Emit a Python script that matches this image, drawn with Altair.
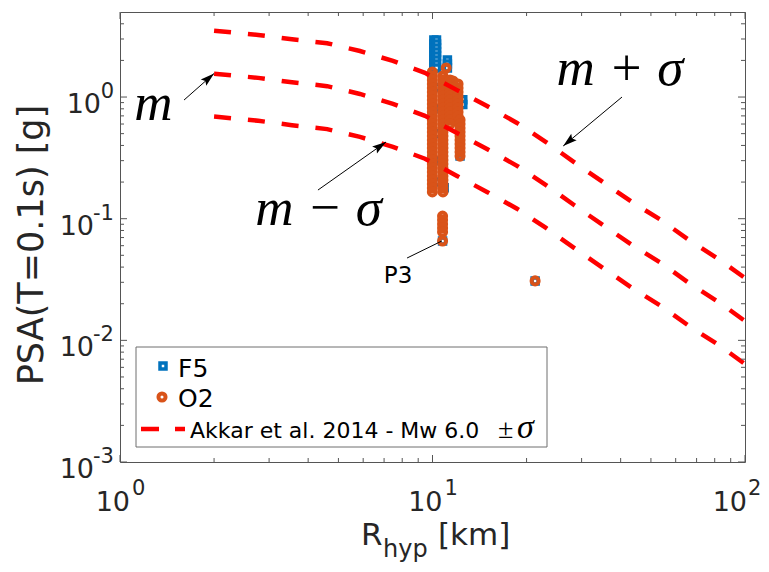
import altair as alt
import pandas as pd

W, H = 625, 450
BLUE = "#0072BD"
ORANGE = "#D95319"
RED = "#FF0000"
AX = "#555555"
TXT = "#262626"

# ---- Akkar et al. 2014 (Mw 6.0) median and +/- sigma
curve_R = [2.0, 2.77, 3.55, 4.60, 5.86, 7.47, 9.46, 11.98, 14.94, 18.64, 23.08,
           28.37, 35.1, 43.5, 53.8, 66.2, 83.2, 100.0]
curve_plus = [3.51, 3.24, 2.98, 2.77, 2.39, 1.98, 1.58, 1.14, 0.844, 0.612, 0.427,
              0.292, 0.200, 0.137, 0.0976, 0.0668, 0.0457, 0.0325]
curve_med = [1.557, 1.437, 1.322, 1.229, 1.060, 0.878, 0.701, 0.506, 0.374, 0.272,
             0.189, 0.1295, 0.0887, 0.0608, 0.0433, 0.0296, 0.0203, 0.0144]
curve_minus = [0.691, 0.638, 0.587, 0.545, 0.470, 0.390, 0.311, 0.2245, 0.166,
               0.1207, 0.0839, 0.0575, 0.0394, 0.0270, 0.0192, 0.01313, 0.0090,
               0.00639]

# ---- F5 records (blue squares)
f5_R = [10.1] * 8 + [10.3] * 8 + [11.16] * 3 + [
    10.3, 10.5, 10.4, 10.6, 10.3, 12.25, 12.5, 12.5, 10.77, 21.3, 10.9]
f5_PSA = ([2.94, 2.73, 2.53, 2.35, 2.175, 2.02, 1.87, 1.733] * 2 +
          [2.02, 1.87, 1.733] +
          [1.2, 0.8, 0.5, 0.3, 0.2, 0.327, 0.95, 0.87, 0.0656, 0.0308, 0.18])

# ---- O2 records (orange circles)
colA = [1.606, 1.489, 1.380, 1.280, 1.186, 1.100, 1.020, 0.945, 0.876, 0.812,
        0.753, 0.698, 0.647, 0.600, 0.556, 0.516, 0.478, 0.443, 0.411, 0.381,
        0.353, 0.327, 0.304, 0.2815, 0.261, 0.242, 0.224, 0.208, 0.193, 0.179,
        0.166]
colC = [1.489, 1.380, 1.280, 1.186, 1.100, 1.020, 0.945, 0.876, 0.812, 0.753,
        0.698, 0.647, 0.600, 0.556, 0.516, 0.478, 0.443, 0.411, 0.381, 0.353,
        0.327, 0.304, 0.2815, 0.261, 0.242, 0.224, 0.208, 0.193, 0.179, 0.166]
colD = [1.380, 1.280, 1.186, 1.100, 1.020, 0.945, 0.876, 0.812, 0.753, 0.698,
        0.647, 0.600]
colE = [1.280, 1.186, 1.100, 1.020, 0.945, 0.876, 0.812, 0.753, 0.698]
colF = [0.647, 0.600, 0.556, 0.516, 0.478, 0.443, 0.411, 0.381, 0.353, 0.327]
lowP3 = [0.105, 0.0975, 0.0903, 0.084, 0.0777, 0.0656]
o2_R = ([9.99] * len(colA) + [10.8] * len(colC) + [11.38] * len(colD) +
        [12.07] * len(colE) + [12.25] * len(colF) +
        [11.06, 11.63] + [10.77] * len(lowP3) + [21.3])
o2_PSA = colA + colC + colD + colE + colF + [1.733, 1.354] + lowP3 + [0.0308]

# ---- annotations
ann_text = ["m", "m + σ", "m − σ"]
ann_R = [1.28, 39.8, 4.32]
ann_PSA = [0.647, 1.256, 0.0887]
arrow_R1 = [1.603, 40.4, 4.30]
arrow_P1 = [0.945, 1.0, 0.172]
arrow_R2 = [2.0, 26.2, 7.10]
arrow_P2 = [1.561, 0.396, 0.427]
arrow_ang = [49, 230, 55]
p3_line_R = [8.29, 10.72]
p3_line_P = [0.0475, 0.0656]
p3_R, p3_P = [7.76], [0.0296]

# ---- axis ticks and labels
x_major = [1, 10, 100]
x_minor = [2, 3, 4, 5, 6, 7, 8, 9, 20, 30, 40, 50, 60, 70, 80, 90]
y_major = [0.001, 0.01, 0.1, 1]
y_minor = [0.002, 0.003, 0.004, 0.005, 0.006, 0.007, 0.008, 0.009,
           0.02, 0.03, 0.04, 0.05, 0.06, 0.07, 0.08, 0.09,
           0.2, 0.3, 0.4, 0.5, 0.6, 0.7, 0.8, 0.9, 2, 3, 4]
x_lab_exp = ["0", "1", "2"]
y_lab_exp = ["-3", "-2", "-1", "0"]

xs = alt.Scale(type="log", domain=[1, 100], nice=False)
ys = alt.Scale(type="log", domain=[0.001, 5], nice=False)


def X(f):
    return alt.X(f, type="quantitative", scale=xs, axis=None)


def Y(f):
    return alt.Y(f, type="quantitative", scale=ys, axis=None)


df_curves = pd.concat([
    pd.DataFrame({"R": curve_R, "PSA": curve_plus, "c": "plus"}),
    pd.DataFrame({"R": curve_R, "PSA": curve_med, "c": "med"}),
    pd.DataFrame({"R": curve_R, "PSA": curve_minus, "c": "minus"}),
])
df_f5 = pd.DataFrame({"R": f5_R, "PSA": f5_PSA})
df_o2 = pd.DataFrame({"R": o2_R, "PSA": o2_PSA})
df_ann = pd.DataFrame({"t": ann_text, "R": ann_R, "PSA": ann_PSA})
df_arr = pd.DataFrame({"R1": arrow_R1, "P1": arrow_P1, "R2": arrow_R2,
                       "P2": arrow_P2, "ang": arrow_ang})
df_p3l = pd.DataFrame({"R1": [p3_line_R[0]], "P1": [p3_line_P[0]],
                       "R2": [p3_line_R[1]], "P2": [p3_line_P[1]]})
df_p3 = pd.DataFrame({"R": p3_R, "PSA": p3_P, "t": ["P3"]})

SQ = dict(shape="square", size=36, filled=True, fill="white", stroke=BLUE,
          strokeWidth=3.5, opacity=1)
CI = dict(shape="circle", size=50, filled=False, stroke=ORANGE, strokeWidth=4,
          opacity=1)

f5 = alt.Chart(df_f5).mark_point(**SQ).encode(x=X("R"), y=Y("PSA"))
o2 = alt.Chart(df_o2).mark_point(**CI).encode(x=X("R"), y=Y("PSA"))

curves = alt.Chart(df_curves).mark_line(
    color=RED, strokeWidth=4.5, strokeDash=[17, 17]
).encode(x=X("R"), y=Y("PSA"), detail="c:N")

arrows = alt.Chart(df_arr).mark_rule(color="black", strokeWidth=1).encode(
    x=X("R1"), y=Y("P1"), x2="R2", y2="P2")
ARROW = "M0,0L-0.3,1L0,0.82L0.3,1Z"
heads = alt.Chart(df_arr).mark_point(
    shape=ARROW, size=784, filled=True, color="black", opacity=1
).encode(x=X("R2"), y=Y("P2"), angle=alt.Angle("ang:Q", scale=None))

ann = alt.Chart(df_ann).mark_text(
    font="Liberation Serif", fontStyle="italic", fontSize=53, align="center",
    baseline="alphabetic", color="black"
).encode(x=X("R"), y=Y("PSA"), text="t:N")

p3line = alt.Chart(df_p3l).mark_rule(color="black", strokeWidth=1).encode(
    x=X("R1"), y=Y("P1"), x2="R2", y2="P2")
p3 = alt.Chart(df_p3).mark_text(
    font="DejaVu Sans", fontSize=23, align="center", baseline="alphabetic",
    color="black"
).encode(x=X("R"), y=Y("PSA"), text="t:N")

# ---- ticks (inward, on all four sides)
dxM = pd.DataFrame({"v": x_major})
dxm = pd.DataFrame({"v": x_minor})
dyM = pd.DataFrame({"v": y_major})
dym = pd.DataFrame({"v": y_minor})
tick_layers = []
for d, L in ((dxM, 7), (dxm, 4)):
    tick_layers.append(alt.Chart(d).mark_rule(color=AX, strokeWidth=1).encode(
        x=X("v"), y=alt.value(H), y2=alt.value(H - L)))
    tick_layers.append(alt.Chart(d).mark_rule(color=AX, strokeWidth=1).encode(
        x=X("v"), y=alt.value(0), y2=alt.value(L)))
for d, L in ((dyM, 7), (dym, 4)):
    tick_layers.append(alt.Chart(d).mark_rule(color=AX, strokeWidth=1).encode(
        y=Y("v"), x=alt.value(0), x2=alt.value(L)))
    tick_layers.append(alt.Chart(d).mark_rule(color=AX, strokeWidth=1).encode(
        y=Y("v"), x=alt.value(W), x2=alt.value(W - L)))

# ---- tick labels 10^n
dxl = pd.DataFrame({"v": x_major, "e": x_lab_exp})
dyl = pd.DataFrame({"v": y_major, "e": y_lab_exp})
lab_font = dict(font="DejaVu Sans", color=TXT, baseline="alphabetic")
xl10 = alt.Chart(dxl).transform_filter(alt.datum.v < 50).mark_text(
    fontSize=27, align="right", dx=10, **lab_font).encode(
    x=X("v"), y=alt.value(H + 49), text=alt.value("10"))
xlexp = alt.Chart(dxl).transform_filter(alt.datum.v < 50).mark_text(
    fontSize=21, align="left", dx=12, **lab_font).encode(
    x=X("v"), y=alt.value(H + 33), text="e:N")
xl10_end = alt.Chart(dxl).transform_filter(alt.datum.v > 50).mark_text(
    fontSize=27, align="right", dx=2, **lab_font).encode(
    x=X("v"), y=alt.value(H + 49), text=alt.value("10"))
xlexp_end = alt.Chart(dxl).transform_filter(alt.datum.v > 50).mark_text(
    fontSize=21, align="left", dx=3, **lab_font).encode(
    x=X("v"), y=alt.value(H + 33), text="e:N")
yl10a = alt.Chart(dyl).transform_filter(alt.datum.e == "0").mark_text(
    fontSize=27, align="right", dy=16, **lab_font).encode(
    y=Y("v"), x=alt.value(-19), text=alt.value("10"))
yl10b = alt.Chart(dyl).transform_filter(alt.datum.e != "0").mark_text(
    fontSize=27, align="right", dy=16, **lab_font).encode(
    y=Y("v"), x=alt.value(-26), text=alt.value("10"))
ylexp = alt.Chart(dyl).mark_text(fontSize=21, align="right", dy=1, **lab_font).encode(
    y=Y("v"), x=alt.value(-6), text="e:N")

# ---- axis titles
one = pd.DataFrame({"k": [0]})
title_font = dict(font="DejaVu Sans", color=TXT, baseline="alphabetic", align="left")
xt_R = alt.Chart(one).mark_text(fontSize=31, **title_font).encode(
    x=alt.value(241), y=alt.value(533), text=alt.value("R"))
xt_hyp = alt.Chart(one).mark_text(fontSize=24, **title_font).encode(
    x=alt.value(263), y=alt.value(545), text=alt.value("hyp"))
xt_km = alt.Chart(one).mark_text(fontSize=31, **title_font).encode(
    x=alt.value(318), y=alt.value(533), text=alt.value("[km]"))
yt = alt.Chart(one).mark_text(
    fontSize=35, font="DejaVu Sans", color=TXT, baseline="alphabetic",
    align="center", angle=270).encode(
    x=alt.value(-77), y=alt.value(233), text=alt.value("PSA(T=0.1s) [g]"))

# ---- legend
leg_box = alt.Chart(one).mark_rect(fill="white", stroke="#6e6e6e", strokeWidth=1).encode(
    x=alt.value(16), x2=alt.value(427), y=alt.value(335), y2=alt.value(435))
leg_sq = alt.Chart(one).mark_point(**SQ).encode(x=alt.value(43), y=alt.value(354))
leg_ci = alt.Chart(one).mark_point(**CI).encode(x=alt.value(42), y=alt.value(385))
leg_ln = alt.Chart(one).mark_rule(color=RED, strokeWidth=4.5, strokeDash=[18, 16]).encode(
    x=alt.value(21), x2=alt.value(65), y=alt.value(417))
leg_font = dict(font="DejaVu Sans", color="black", baseline="alphabetic", align="left")
leg_t1 = alt.Chart(one).mark_text(fontSize=25, **leg_font).encode(
    x=alt.value(58), y=alt.value(365), text=alt.value("F5"))
leg_t2 = alt.Chart(one).mark_text(fontSize=25, **leg_font).encode(
    x=alt.value(58), y=alt.value(395), text=alt.value("O2"))
leg_t3 = alt.Chart(one).mark_text(fontSize=22, **leg_font).encode(
    x=alt.value(70), y=alt.value(426), text=alt.value("Akkar et al. 2014 - Mw 6.0"))
leg_pm = alt.Chart(one).mark_text(fontSize=28, font="Liberation Serif", color="black",
                                  baseline="alphabetic", align="left").encode(
    x=alt.value(378), y=alt.value(426), text=alt.value("±"))
leg_sig = alt.Chart(one).mark_text(fontSize=34, font="Liberation Serif", fontStyle="italic",
                                   color="black", baseline="alphabetic", align="left").encode(
    x=alt.value(397), y=alt.value(426), text=alt.value("σ"))

chart = alt.layer(
    f5, o2, curves, arrows, heads, ann, p3line, p3,
    *tick_layers,
    xl10, xlexp, xl10_end, xlexp_end, yl10a, yl10b, ylexp,
    xt_R, xt_hyp, xt_km, yt,
    leg_box, leg_sq, leg_ci, leg_ln, leg_t1, leg_t2, leg_t3, leg_pm, leg_sig,
).properties(
    width=W, height=H,
    autosize=alt.AutoSizeParams(type="none"),
    padding={"left": 112, "top": 4, "right": 16, "bottom": 102},
    background="white",
).configure_view(stroke=AX, strokeWidth=1)

chart.save("out.html", embed_options={"renderer": "svg", "actions": False})
